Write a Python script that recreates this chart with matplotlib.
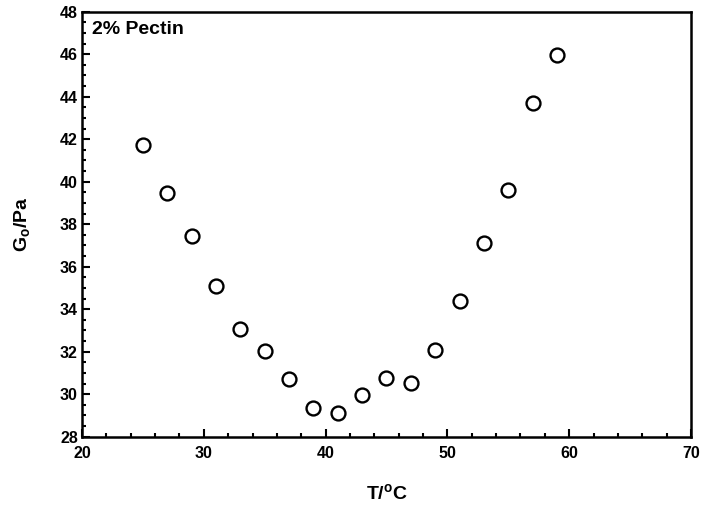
import numpy as np
import matplotlib; matplotlib.use("Agg")
import matplotlib.pyplot as plt
from matplotlib.ticker import MultipleLocator

plt.rcParams["font.family"] = ["Liberation Sans", "DejaVu Sans"]
plt.rcParams["font.weight"] = "bold"

# temperature (deg C) and G_o (Pa)
temp = [25, 27, 29, 31, 33, 35, 37, 39, 41, 43, 45, 47, 49, 51, 53, 55, 57, 59]
g_o = [41.73, 39.47, 37.46, 35.07, 33.07, 32.01, 30.70, 29.35, 29.10, 29.94,
       30.75, 30.51, 32.08, 34.39, 37.13, 39.62, 43.72, 45.98]
label = "2% Pectin"

fig = plt.figure(figsize=(7.02, 5.08), dpi=100)
ax = fig.add_axes([0.1168, 0.1404, 0.8675, 0.8366])
ax.plot(temp, g_o, "o", mfc="white", mec="black", ms=10, mew=1.7, ls="none")

ax.set_xlim(20, 70); ax.set_ylim(28, 48)
ax.xaxis.set_major_locator(MultipleLocator(10)); ax.xaxis.set_minor_locator(MultipleLocator(2))
ax.yaxis.set_major_locator(MultipleLocator(2)); ax.yaxis.set_minor_locator(MultipleLocator(0.5))
ax.tick_params(which="both", direction="in", top=False, right=False, width=1.5, labelsize=11.5)
ax.tick_params(which="major", length=6)
ax.tick_params(which="minor", length=3)
ax.tick_params(axis="x", pad=7)
ax.tick_params(axis="y", pad=3)
for s in ax.spines.values(): s.set_linewidth(1.8)

ax.set_xlabel(r"T/$^{\mathregular{o}}$C", fontsize=14, fontweight="bold", labelpad=16)
ax.set_ylabel(r"G$_{\mathregular{o}}$/Pa", fontsize=14, fontweight="bold", labelpad=19)
ax.text(0.016, 0.978, label, transform=ax.transAxes, fontsize=14, fontweight="bold", va="top", ha="left")

fig.savefig("out.png", dpi=100)
